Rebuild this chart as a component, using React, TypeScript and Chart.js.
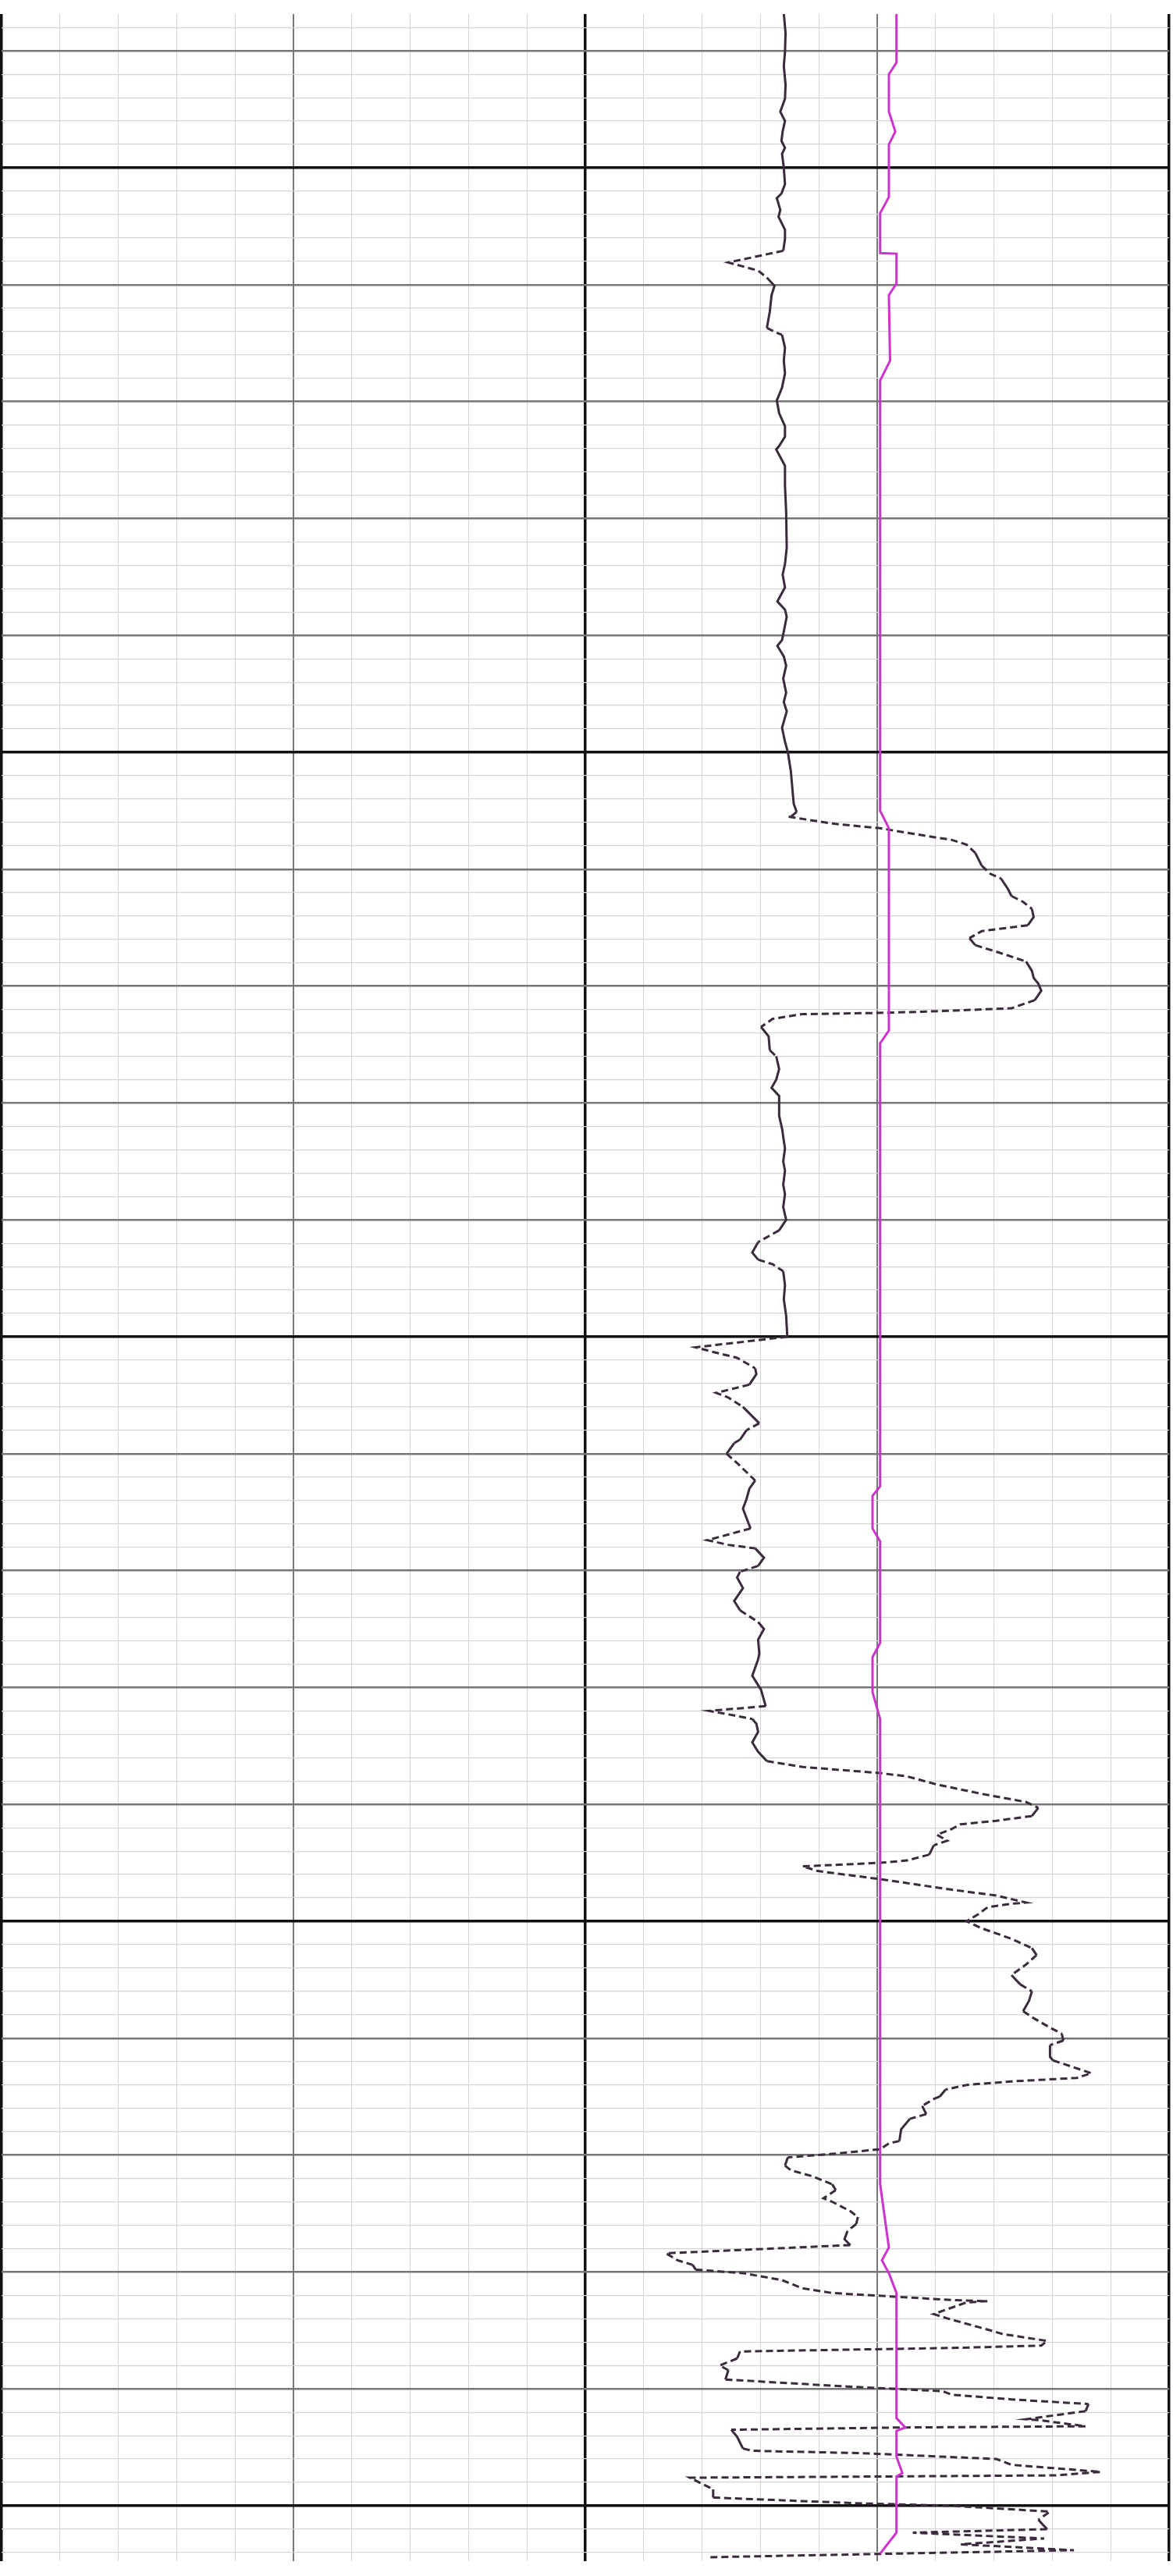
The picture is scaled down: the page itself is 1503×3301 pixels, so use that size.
import React, { useEffect, useRef } from "react";
import { Chart, registerables } from "chart.js";

Chart.register(...registerables);

// Depth range (ft) and grid spacing
const depthTop = 4986.85;
const depthBottom = 5204.74;
const minorStep = 2;
const mediumStep = 10;
const majorStep = 50;

// Track grid: two tracks of 10 divisions each
const xTicks = Array.from({ length: 21 }, (_, i) => i);
const yTicks = Array.from({ length: 109 }, (_, i) => 4988 + i * minorStep);

// Curve 1 (dark, right track, scale 0..10)
const curveDepths = [
  4986.8, 4988.5, 4990.1, 4991.3, 4992.9, 4994.1, 4995.2, 4996.0, 4996.9, 4997.7, 4998.3, 4998.8,
  5000.0, 5001.4, 5002.2, 5002.6, 5003.6, 5004.2, 5005.3, 5006.1, 5007.1, 5008.1, 5008.8, 5009.4,
  5010.1, 5010.9, 5012.3, 5013.7, 5014.1, 5014.3, 5015.4, 5016.5, 5017.6, 5018.8, 5019.9, 5021.0,
  5022.1, 5023.0, 5023.8, 5024.1, 5025.5, 5027.2, 5029.4,
  5032.5, 5033.9, 5034.8, 5035.9, 5037.1, 5037.8, 5038.4, 5040.4, 5040.9, 5041.8, 5042.6, 5043.7,
  5044.9, 5045.7, 5046.5, 5047.9, 5049.1, 5050.0, 5051.6, 5053.3, 5054.4, 5055.1, 5055.4, 5055.5,
  5056.1, 5056.5, 5057.1, 5057.5, 5057.9, 5058.6, 5059.7, 5060.4, 5060.8, 5061.7, 5062.3, 5062.8,
  5063.4, 5064.1, 5064.8, 5065.3, 5065.9, 5066.5, 5067.3, 5067.9, 5068.7, 5069.3, 5069.8, 5070.4,
  5071.2, 5071.9, 5072.2, 5072.3, 5072.4, 5072.8, 5073.5,
  5074.3, 5075.5, 5076.0, 5077.1, 5078.0, 5078.7, 5079.4, 5081.1, 5082.2, 5083.9, 5085.0, 5085.8,
  5087.0, 5087.8, 5088.9, 5090.0, 5090.9, 5091.9, 5092.8, 5093.4, 5093.8, 5094.4, 5095.6, 5096.8,
  5098.2, 5100.0, 5100.9, 5101.3, 5101.8, 5102.7, 5103.2, 5104.1, 5104.8, 5105.2, 5106.0, 5107.4,
  5108.0, 5108.8, 5109.1, 5110.0, 5110.8, 5112.3, 5113.0, 5113.9, 5114.7, 5116.4, 5117.4, 5117.8,
  5118.1, 5118.9, 5119.6, 5120.1, 5120.6, 5121.5, 5122.6, 5123.4, 5124.4, 5125.0, 5125.9, 5127.1,
  5127.6, 5129.0, 5130.2, 5131.6, 5132.0, 5132.3, 5132.7, 5133.1, 5133.8, 5134.7, 5135.5, 5136.3,
  5136.8, 5137.3, 5137.6, 5138.3, 5139.1, 5139.8, 5140.3, 5141.0, 5141.4, 5141.7, 5142.1, 5142.6,
  5143.1, 5143.5, 5144.3, 5144.8, 5145.0, 5145.3, 5145.7, 5146.4, 5147.3, 5147.8, 5148.4, 5148.5,
  5148.8, 5149.4, 5150.0, 5150.6, 5151.5, 5152.3, 5152.9, 5153.7, 5154.6, 5155.4, 5156.0, 5156.8,
  5157.7, 5158.2, 5159.1, 5159.6, 5160.2, 5160.6, 5161.6,
  5161.9, 5163.0, 5163.4, 5163.7, 5164.0, 5164.4, 5165.0, 5165.2, 5165.8, 5166.5, 5166.9, 5167.8,
  5168.8, 5169.0, 5169.5, 5169.9, 5170.2, 5170.9, 5171.3, 5171.8, 5172.5, 5173.0, 5173.7, 5174.0,
  5174.8, 5175.3, 5175.9, 5176.5, 5177.2, 5177.7, 5178.4, 5179.0, 5179.4, 5179.8, 5180.1, 5180.7,
  5181.4, 5181.8, 5182.4, 5182.5, 5182.6, 5183.6, 5184.0, 5185.0, 5185.3, 5185.9, 5186.3, 5186.5,
  5186.8, 5187.4, 5188.0, 5188.4, 5189.2, 5189.8, 5190.2, 5190.5, 5190.9, 5191.3, 5191.9, 5192.6,
  5192.7, 5193.2, 5193.3, 5193.5, 5194.1, 5195.1, 5195.3, 5195.5, 5196.0, 5196.5, 5197.1, 5197.4,
  5197.6, 5198.1, 5198.6, 5199.3, 5199.8, 5200.0, 5200.5, 5201.2, 5202.0, 5202.3, 5202.8, 5203.3,
  5203.8, 5204.4,
];
const curveValues = [
  3.40, 3.43, 3.42, 3.40, 3.43, 3.42, 3.34, 3.42, 3.38, 3.36, 3.42, 3.37,
  3.40, 3.42, 3.36, 3.28, 3.34, 3.31, 3.42, 3.42, 3.39, 2.45, 2.96, 3.11,
  3.24, 3.19, 3.16, 3.11, 3.27, 3.37, 3.42, 3.40, 3.42, 3.37, 3.28, 3.32,
  3.42, 3.42, 3.32, 3.27, 3.42, 3.42, 3.44,
  3.45, 3.42, 3.38, 3.42, 3.29, 3.42, 3.45, 3.37, 3.29, 3.40, 3.44, 3.39,
  3.44, 3.40, 3.45, 3.37, 3.42, 3.47, 3.52, 3.55, 3.57, 3.62, 3.55, 3.47,
  4.23, 5.05, 5.77, 6.28, 6.53, 6.68, 6.79, 6.94, 7.12, 7.24, 7.30, 7.50,
  7.65, 7.68, 7.58, 6.79, 6.58, 6.68, 7.19, 7.55, 7.65, 7.68, 7.76, 7.81,
  7.70, 7.30, 5.77, 5.00, 3.72, 3.21, 3.01,
  3.14, 3.16, 3.27, 3.32, 3.27, 3.19, 3.32, 3.32, 3.37, 3.42, 3.39, 3.42,
  3.39, 3.42, 3.39, 3.44, 3.32, 2.96, 2.86, 2.96, 3.21, 3.39, 3.42, 3.40,
  3.44, 3.46, 1.89, 2.19, 2.60, 2.91, 2.93, 2.81, 2.24, 2.45, 2.70, 2.98,
  2.76, 2.65, 2.55, 2.42, 2.60, 2.91, 2.81, 2.76, 2.70, 2.83, 2.09, 2.45,
  2.91, 3.06, 2.96, 2.65, 2.60, 2.70, 2.55, 2.65, 2.96, 3.06, 2.96, 2.98,
  2.96, 2.86, 3.01, 3.09, 2.12, 2.45, 2.86, 2.93, 2.96, 2.86, 2.96, 3.11,
  3.72, 5.00, 5.51, 6.02, 6.79, 7.55, 7.76, 7.65, 7.04, 6.43, 6.28, 6.02,
  6.20, 5.97, 5.89, 5.51, 5.05, 3.72, 3.98, 5.05, 6.28, 7.04, 7.55, 7.30,
  6.89, 6.73, 6.53, 6.79, 7.30, 7.65, 7.73, 7.55, 7.30, 7.45, 7.65, 7.60,
  7.50, 7.65, 7.96, 8.16, 8.19, 7.96, 7.96,
  8.01, 8.67, 8.42, 7.30, 6.53, 6.17, 6.07, 5.97, 5.77, 5.84, 5.56, 5.41,
  5.38, 5.20, 5.05, 4.23, 3.47, 3.42, 3.52, 3.88, 4.23, 4.29, 4.08, 4.23,
  4.54, 4.67, 4.64, 4.49, 4.44, 4.54, 1.38, 1.58, 1.84, 1.89, 2.70, 3.37,
  3.72, 4.23, 6.28, 6.89, 6.53, 5.97, 6.22, 6.94, 7.14, 7.91, 7.81, 6.28,
  2.65, 2.60, 2.30, 2.45, 2.40, 4.49, 6.12, 6.28, 7.30, 8.62, 8.57, 7.55,
  7.81, 8.57, 5.51, 2.50, 2.60, 2.70, 2.86, 4.74, 7.04, 7.30, 8.83, 8.06,
  1.79, 1.99, 2.19, 2.19, 4.74, 6.28, 7.96, 7.76, 7.91, 5.61, 7.86, 6.43,
  8.37, 2.14,
];

// Curve 2 (magenta, right track, scale 0..10)
const magentaDepths = [
  4986.8, 4991.0, 4992.0, 4995.2, 4996.9, 4998.0, 5002.5, 5003.9, 5007.3, 5007.35, 5009.9, 5010.9,
  5016.5, 5018.2, 5055.0, 5056.5, 5073.8, 5074.9, 5112.8, 5113.6, 5116.4, 5117.5, 5126.2, 5127.4,
  5130.4, 5132.7, 5172.5, 5177.9, 5179.0, 5180.1, 5181.8, 5192.5, 5193.3, 5193.6, 5195.8, 5197.2,
  5197.5, 5202.3, 5204.1,
];
const magentaValues = [
  5.33, 5.33, 5.20, 5.20, 5.31, 5.20, 5.20, 5.05, 5.05, 5.33, 5.33, 5.20,
  5.22, 5.05, 5.05, 5.20, 5.20, 5.05, 5.05, 4.92, 4.92, 5.05, 5.05, 4.92,
  4.92, 5.05, 5.05, 5.20, 5.08, 5.20, 5.33, 5.33, 5.48, 5.33, 5.33, 5.43,
  5.33, 5.33, 5.05,
];

const MINOR = "#d4d4d4";
const MEDIUM = "#777777";
const MAJOR = "#111111";

export default function App() {
  const ref = useRef<HTMLCanvasElement | null>(null);

  useEffect(() => {
    if (!ref.current) return;
    const dark = curveDepths.map((d, i) => ({ x: curveValues[i], y: d }));
    const mag = magentaDepths.map((d, i) => ({ x: magentaValues[i], y: d }));

    const chart = new Chart(ref.current, {
      type: "scatter",
      data: {
        datasets: [
          {
            data: mag,
            xAxisID: "xr",
            yAxisID: "y",
            showLine: true,
            borderColor: "#cc33cc",
            borderWidth: 3,
            pointRadius: 0,
            tension: 0,
          },
          {
            data: dark,
            xAxisID: "xr",
            yAxisID: "y",
            showLine: true,
            borderColor: "#3b2a3d",
            borderWidth: 3,
            pointRadius: 0,
            tension: 0,
            segment: {
              borderDash: (ctx: any) =>
                Math.abs(ctx.p1.x - ctx.p0.x) > Math.abs(ctx.p1.y - ctx.p0.y) * 1.0 ? [9, 5] : undefined,
            },
          },
        ],
      },
      options: {
        responsive: false,
        animation: false,
        events: [],
        layout: { padding: { left: 2, top: 18, right: 5, bottom: 19 } },
        plugins: { legend: { display: false }, tooltip: { enabled: false }, title: { display: false } },
        scales: {
          x: {
            type: "linear",
            min: 0,
            max: 20,
            position: "bottom",
            afterBuildTicks: (scale: any) => {
              scale.ticks = xTicks.map((v) => ({ value: v }));
            },
            ticks: { display: false },
            border: { display: false },
            grid: {
              drawTicks: false,
              color: (ctx: any) => {
                const v = ctx.tick.value;
                if (v % 10 === 0) return MAJOR;
                if (v % 5 === 0) return MEDIUM;
                return MINOR;
              },
              lineWidth: (ctx: any) => {
                const v = ctx.tick.value;
                if (v % 10 === 0) return 3.5;
                if (v % 5 === 0) return 2;
                return 1;
              },
            },
          },
          xr: {
            type: "linear",
            min: -10,
            max: 10,
            display: false,
          },
          y: {
            type: "linear",
            min: depthTop,
            max: depthBottom,
            reverse: true,
            afterBuildTicks: (scale: any) => {
              scale.ticks = yTicks.map((v) => ({ value: v }));
            },
            ticks: { display: false },
            border: { display: false },
            grid: {
              drawTicks: false,
              color: (ctx: any) => {
                const v = Math.round(ctx.tick.value);
                if (v % majorStep === 0) return MAJOR;
                if (v % mediumStep === 0) return MEDIUM;
                return MINOR;
              },
              lineWidth: (ctx: any) => {
                const v = Math.round(ctx.tick.value);
                if (v % majorStep === 0) return 3.5;
                if (v % mediumStep === 0) return 2.5;
                return 1.2;
              },
            },
          },
        },
      },
    });
    return () => chart.destroy();
  }, []);

  return (
    <div style={{ position: "absolute", left: 0, top: 0, width: 1503, height: 3301, background: "#fff" }}>
      <canvas ref={ref} width={1503} height={3301} style={{ display: "block" }} />
    </div>
  );
}
